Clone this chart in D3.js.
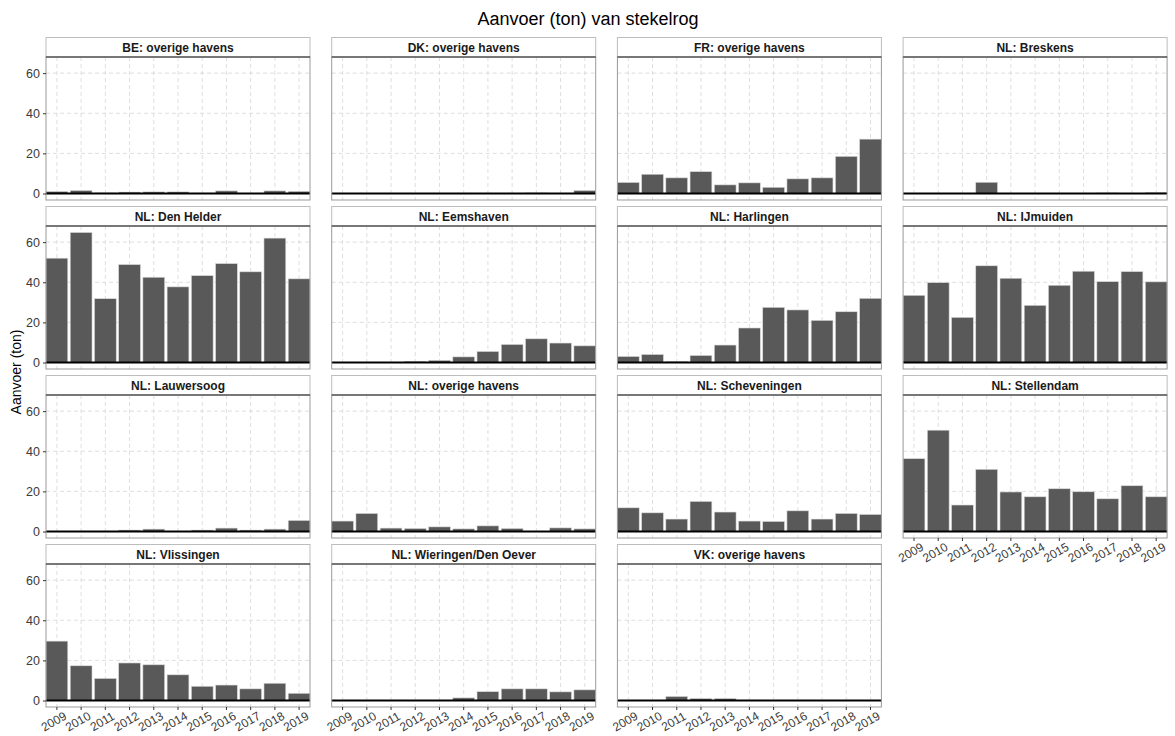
<!DOCTYPE html>
<html>
<head>
<meta charset="utf-8">
<script src="https://cdn.jsdelivr.net/npm/d3@7"></script>
<style>
  body { margin: 0; background: #fff; }
  svg text { font-family: "Liberation Sans", Arial, sans-serif; }
</style>
</head>
<body>
<svg id="chart" width="1175" height="736"></svg>
<script>
// Landings (tonnes) of thornback ray per port, 2009-2019
const years = ["2009","2010","2011","2012","2013","2014","2015","2016","2017","2018","2019"];
const yTicks = [0, 20, 40, 60];

const beOverige      = [1.0, 1.5, 0.3, 0.7, 0.8, 0.8, 0.2, 1.3, 0.1, 1.3, 1.1];
const dkOverige      = [0, 0, 0, 0, 0, 0, 0, 0, 0.3, 0.1, 1.5];
const frOverige      = [5.5, 9.6, 7.8, 10.9, 4.3, 5.3, 3.1, 7.3, 7.8, 18.5, 27.1];
const nlBreskens     = [0, 0, 0, 5.6, 0, 0, 0, 0, 0.3, 0, 0.5];
const nlDenHelder    = [52.0, 64.8, 31.8, 48.8, 42.5, 37.7, 43.3, 49.3, 45.2, 62.0, 41.7];
const nlEemshaven    = [0, 0, 0, 0.6, 1.1, 2.8, 5.5, 9.0, 11.8, 9.7, 8.3];
const nlHarlingen    = [3.0, 4.0, 0.5, 3.5, 8.7, 17.2, 27.5, 26.2, 21.0, 25.3, 32.0];
const nlIJmuiden     = [33.5, 39.8, 22.5, 48.2, 42.0, 28.5, 38.5, 45.5, 40.3, 45.3, 40.2];
const nlLauwersoog   = [0, 0, 0, 0.7, 1.2, 0.1, 0.7, 1.7, 0.7, 1.2, 5.5];
const nlOverige      = [5.2, 9.0, 1.7, 1.5, 2.3, 1.3, 2.8, 1.5, 0, 1.8, 1.3];
const nlScheveningen = [11.8, 9.3, 6.2, 15.0, 9.7, 5.2, 5.0, 10.3, 6.2, 9.0, 8.5];
const nlStellendam   = [36.3, 50.5, 13.2, 31.0, 19.7, 17.3, 21.3, 19.8, 16.3, 22.8, 17.3];
const nlVlissingen   = [29.6, 17.3, 11.0, 18.7, 17.8, 12.8, 7.1, 7.7, 5.8, 8.6, 3.6];
const nlWieringen    = [0, 0, 0, 0, 0, 1.3, 4.4, 5.8, 5.8, 4.3, 5.3];
const vkOverige      = [0, 0, 2.0, 1.0, 1.0, 0.2, 0, 0, 0, 0, 0];

const panelNames = [
  "BE: overige havens", "DK: overige havens", "FR: overige havens", "NL: Breskens",
  "NL: Den Helder", "NL: Eemshaven", "NL: Harlingen", "NL: IJmuiden",
  "NL: Lauwersoog", "NL: overige havens", "NL: Scheveningen", "NL: Stellendam",
  "NL: Vlissingen", "NL: Wieringen/Den Oever", "VK: overige havens"
];
const panelValues = [
  beOverige, dkOverige, frOverige, nlBreskens,
  nlDenHelder, nlEemshaven, nlHarlingen, nlIJmuiden,
  nlLauwersoog, nlOverige, nlScheveningen, nlStellendam,
  nlVlissingen, nlWieringen, vkOverige
];

// facet grid geometry
const ncol = 4;
const colLeft0 = 46, colPitch = 285.7, panelW = 264;
const rowTop0 = 37.5, rowPitch = 169, stripH = 19.5, panelH = 143;

const svg = d3.select("#chart");

svg.append("text")
  .attr("x", 588).attr("y", 25)
  .attr("text-anchor", "middle")
  .attr("font-size", 18)
  .attr("fill", "#000")
  .text("Aanvoer (ton) van stekelrog");

svg.append("text")
  .attr("transform", "translate(21,372) rotate(-90)")
  .attr("text-anchor", "middle")
  .attr("font-size", 14)
  .attr("fill", "#000")
  .text("Aanvoer (ton)");

const x = d3.scaleBand().domain(years).range([0, panelW]).paddingInner(0.1).paddingOuter(0);
const maxVal = d3.max(panelValues, v => d3.max(v));
const y = d3.scaleLinear().domain([-0.05 * maxVal, 1.05 * maxVal]).range([panelH, 0]);

const nPanels = panelNames.length;

panelNames.forEach((name, i) => {
  const col = i % ncol, row = Math.floor(i / ncol);
  const left = colLeft0 + col * colPitch;
  const top = rowTop0 + row * rowPitch;
  const g = svg.append("g").attr("transform", `translate(${left},${top})`);

  // strip
  g.append("rect")
    .attr("x", 0).attr("y", 0).attr("width", panelW).attr("height", stripH)
    .attr("fill", "#fff").attr("stroke", "#bdbdbd").attr("stroke-width", 1);
  g.append("text")
    .attr("x", panelW / 2).attr("y", stripH / 2 + 4.5)
    .attr("text-anchor", "middle")
    .attr("font-size", 12).attr("font-weight", "bold")
    .attr("fill", "#1a1a1a")
    .text(name);

  const p = g.append("g").attr("transform", `translate(0,${stripH})`);

  // grid
  p.selectAll(".hg").data(yTicks).join("line")
    .attr("x1", 0).attr("x2", panelW)
    .attr("y1", d => y(d)).attr("y2", d => y(d))
    .attr("stroke", "#d6d6d6").attr("stroke-width", 0.8).attr("stroke-dasharray", "4,3");
  p.selectAll(".vg").data(years).join("line")
    .attr("x1", d => x(d) + x.bandwidth() / 2).attr("x2", d => x(d) + x.bandwidth() / 2)
    .attr("y1", 0).attr("y2", panelH)
    .attr("stroke", "#d6d6d6").attr("stroke-width", 0.8).attr("stroke-dasharray", "4,3");

  // bars
  const vals = panelValues[i];
  p.selectAll(".bar").data(years.map((yr, k) => ({ yr, v: vals[k] }))).join("rect")
    .attr("x", d => x(d.yr))
    .attr("width", x.bandwidth())
    .attr("y", d => y(Math.max(0, d.v)))
    .attr("height", d => Math.abs(y(0) - y(d.v)))
    .attr("fill", "#595959")
    .attr("stroke", "#d9d9d9").attr("stroke-width", 0.6);

  // zero reference line
  p.append("line")
    .attr("x1", 0).attr("x2", panelW)
    .attr("y1", y(0)).attr("y2", y(0))
    .attr("stroke", "#000").attr("stroke-width", 1.8);

  // panel border
  p.append("rect")
    .attr("x", 0).attr("y", 0).attr("width", panelW).attr("height", panelH)
    .attr("fill", "none").attr("stroke", "#9a9a9a").attr("stroke-width", 1);
  p.append("line")
    .attr("x1", 0).attr("x2", panelW).attr("y1", 0).attr("y2", 0)
    .attr("stroke", "#333").attr("stroke-width", 1.2);

  // y axis on first column
  if (col === 0) {
    const ya = p.append("g").call(d3.axisLeft(y).tickValues(yTicks).tickSize(3).tickPadding(3));
    ya.select(".domain").remove();
    ya.selectAll(".tick line").attr("stroke", "#333");
    ya.selectAll(".tick text").attr("font-size", 12.5).attr("fill", "#3a3a3a")
      .style("font-family", '"Liberation Sans", Arial, sans-serif');
  }

  // x axis under the lowest panel of each column
  const isBottom = (i + ncol >= nPanels);
  if (isBottom) {
    const xa = p.append("g").attr("transform", `translate(0,${panelH})`)
      .call(d3.axisBottom(x).tickSize(3).tickPadding(0));
    xa.select(".domain").remove();
    xa.selectAll(".tick line").attr("stroke", "#333");
    xa.selectAll(".tick text")
      .attr("font-size", 12).attr("fill", "#3a3a3a")
      .style("font-family", '"Liberation Sans", Arial, sans-serif')
      .attr("text-anchor", "middle")
      .attr("dy", null).attr("y", null)
      .attr("transform", "translate(-1,18) rotate(-30)");
  }
});
</script>
</body>
</html>
